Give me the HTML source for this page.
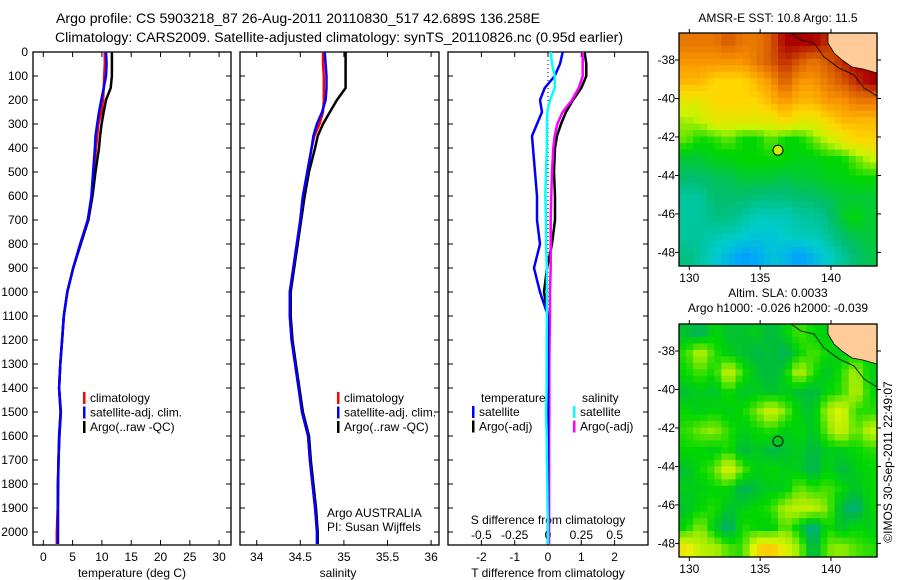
<!DOCTYPE html>
<html><head><meta charset="utf-8"><style>
html,body{margin:0;padding:0;background:#fff}
svg{display:block;font-family:"Liberation Sans",sans-serif}
</style></head><body>
<svg id="fig" width="900" height="580" viewBox="0 0 900 580" xmlns="http://www.w3.org/2000/svg">
<text x="56" y="23" font-size="14" textLength="484" lengthAdjust="spacingAndGlyphs">Argo profile: CS 5903218_87 26-Aug-2011 20110830_517 42.689S 136.258E</text>
<text x="55" y="42" font-size="13.5" textLength="568" lengthAdjust="spacingAndGlyphs">Climatology: CARS2009. Satellite-adjusted climatology: synTS_20110826.nc (0.95d earlier)</text>
<g id="g"></g>
</svg>
<script>
// ---- profile data ----
const depths=[0,50,100,150,200,250,300,350,400,500,600,700,800,900,1000,1100,1200,1300,1400,1500,1600,1700,1800,1900,2000,2050];
const tempClim=[10.5,10.5,10.4,10.3,10.2,9.9,9.4,9.2,9.0,8.6,8.3,7.6,6.3,5.1,4.1,3.5,3.2,2.9,2.7,2.95,2.75,2.6,2.5,2.45,2.3,2.3];
const tempSat=[10.7,10.8,10.7,10.3,9.9,9.5,9.2,8.9,8.8,8.5,8.2,7.6,6.3,5.1,4.1,3.5,3.2,2.9,2.7,3.0,2.75,2.6,2.55,2.5,2.5,2.5];
const tempArgo=[11.7,11.7,11.7,11.5,10.7,10.3,9.95,9.7,9.5,8.9,8.4,7.7,6.4,5.1,4.1,3.5,3.2,2.9,2.7,2.95,2.7,2.6,2.5,2.5,2.5,2.5];
const salClim=[34.76,34.76,34.77,34.77,34.77,34.76,34.72,34.66,34.63,34.58,34.53,34.5,34.46,34.42,34.38,34.38,34.4,34.44,34.48,34.52,34.59,34.61,34.64,34.67,34.7,34.7];
const salSat=[34.78,34.79,34.8,34.8,34.79,34.75,34.69,34.65,34.63,34.58,34.53,34.5,34.46,34.42,34.38,34.38,34.4,34.44,34.48,34.52,34.59,34.61,34.64,34.67,34.69,34.69];
const salArgo=[35.02,35.02,35.02,35.02,34.92,34.84,34.76,34.7,34.67,34.6,34.55,34.51,34.47,34.43,34.39,34.39,34.41,34.45,34.49,34.53,34.6,34.62,34.65,34.68,34.7,34.7];
const dTsat=[0.44,0.36,0.2,-0.1,-0.24,-0.18,-0.33,-0.48,-0.45,-0.39,-0.33,-0.33,-0.24,-0.42,-0.24,0,0,0,0,0,0,0,0,0,0,0];
const dTargo=[1.1,1.15,1.15,1.0,0.75,0.54,0.39,0.27,0.21,0.18,0.21,0.21,0.12,-0.03,-0.12,0,0,0,0,0,0,0,0,0,0,0];
const dSsat=[0.02,0.03,0.05,0.05,0.015,-0.005,-0.008,-0.008,-0.008,-0.015,-0.02,-0.015,-0.015,-0.008,-0.008,-0.008,-0.01,-0.01,-0.01,-0.015,-0.01,-0.008,-0.005,-0.003,0,0];
const dSargo=[0.26,0.26,0.26,0.23,0.18,0.11,0.07,0.05,0.04,0.03,0.025,0.02,0.02,0.02,0.015,0.015,0.012,0.01,0.01,0.01,0.008,0.008,0.008,0.008,0.008,0.008];
// ---- axis tick labels ----
const depthTicks=[0,100,200,300,400,500,600,700,800,900,1000,1100,1200,1300,1400,1500,1600,1700,1800,1900,2000];
const tempTicks=[0,5,10,15,20,25,30];
const salTicks=[34,34.5,35,35.5,36];
const salTickLabels=["34","34.5","35","35.5","36"];
const dTTicks=[-2,-1,0,1,2];
const dSTicks=[-0.5,-0.25,0,0.25,0.5];
const dSTickLabels=["-0.5","-0.25","0","0.25","0.5"];
const latTicks=[-38,-40,-42,-44,-46,-48];
const lonTicks=[130,135,140];
// ---- map data (rows top->bottom, cols west->east) ----
const sstGrid=[
[14.5,14.5,14.5,15,14.5,14.5,15,16,16,16,15.5,15,15,15],
[14,14,14,14,14,14.5,15,15.5,15,14.5,15,15.5,16,16],
[13.5,13.5,13,13,13,13.5,14,15,14,14,14.5,15,15.5,16],
[12.5,12.5,13,13,13,13,13.5,14,13.5,13.5,14,14,14.5,14.5],
[11.8,12,12.5,12.5,12.5,12.5,12.5,13,12.5,12.5,13,13.5,13.5,13.5],
[11.5,11,11.2,11.5,11,11,11.5,11,11,11.5,12,12.5,13,13],
[10.5,10.5,10.8,10.8,11,11,11,11,10.8,10.8,11,11,11.5,12],
[10,10,10.2,10.2,10.5,10.5,10.5,10.3,10.5,10.5,10.8,10.8,11,11],
[9.5,9.5,10,10,10,9.8,9.8,9.8,10,10,10.2,10.5,10.5,10.5],
[9.5,9.5,9.8,9.8,9.5,9.2,9.2,9.2,9.5,9.5,9.8,10.5,11,10.5],
[9.5,9.5,9.3,9.2,9,8.8,8.8,9,9.2,9.2,9.5,10,10.3,10.5],
[9.8,9.5,9,8.5,8,8.2,8.8,8.5,8,8.5,9,9.5,10,10.3]];
const slaGrid=[
[-0.2,-0.4,0,-0.2,-0.2,-0.1,-0.3,-0.1,0.2,0,-0.1,0,0,0],
[0.1,0.6,0.1,-0.1,-0.2,-0.3,-0.2,-0.4,0,0.2,0,-0.1,0,0],
[0,0.2,0,0.7,0.1,-0.2,-0.3,-0.1,0.6,0.1,-0.2,0.1,0.5,-0.1],
[-0.2,-0.1,-0.2,0.1,-0.2,-0.1,-0.2,-0.1,-0.2,-0.3,0,0.1,0.6,0],
[0,-0.1,0,-0.1,0,0.3,0.7,0.3,-0.1,-0.2,0.5,0.8,0.1,0.1],
[0.1,0.3,0.4,0.1,-0.1,0,0.1,-0.1,0,-0.2,0.3,0.7,0.2,0.6],
[0,0,-0.1,0.1,-0.3,-0.1,-0.3,-0.2,-0.1,-0.3,-0.1,-0.1,0,0.1],
[-0.2,0,0.2,0.8,0.2,-0.1,0,-0.1,-0.1,-0.4,0,-0.3,-0.1,0],
[-0.1,-0.1,0,0,-0.4,-0.2,-0.1,-0.1,0.3,0.1,0.2,0,-0.2,0],
[-0.2,0,0.1,-0.2,-0.1,0,0.1,0.5,0.6,0.6,0.3,-0.3,-0.5,0],
[0,0.4,-0.1,-0.5,0.1,0,-0.1,0.3,-0.1,-0.6,0.1,-0.2,0,-0.1],
[0.9,0.6,0.5,0.2,0.1,1.0,1.1,0.8,0.4,-0.4,0.3,0.4,0.2,0.1]];

const NS='http://www.w3.org/2000/svg';
const G=document.getElementById('g');
function mk(tag,attrs,parent){const e=document.createElementNS(NS,tag);for(const k in attrs)e.setAttribute(k,attrs[k]);(parent||G).appendChild(e);return e;}
function txt(x,y,s,anchor,size,parent){const t=mk('text',{x:x,y:y,'font-size':size||12,'text-anchor':anchor||'start'},parent);t.textContent=s;return t;}

const Y0=52,PY=0.24;
function yD(d){return Y0+d*PY;}
const BOT=545;

function panel(name,x0,x1,xfn,ticksTop){
  const g=mk('g',{});
  
  
  mk('rect',{x:x0,y:Y0,width:x1-x0,height:BOT-Y0,fill:'none',stroke:'#000','stroke-width':1.3},g);
  depthTicks.forEach(d=>{mk('line',{x1:x0,x2:x0+5,y1:yD(d),y2:yD(d),stroke:'#000'},g);mk('line',{x1:x1,x2:x1-5,y1:yD(d),y2:yD(d),stroke:'#000'},g);});
  ticksTop.forEach(v=>{const x=xfn(v);mk('line',{x1:x,x2:x,y1:Y0,y2:Y0+5,stroke:'#000'},g);mk('line',{x1:x,x2:x,y1:BOT,y2:BOT-5,stroke:'#000'},g);});
  return g;
}
function series(g,name,vals,xfn,color,w){
  let d='';
  depths.forEach((dp,i)=>{const x=xfn(vals[i]).toFixed(1),y=yD(dp).toFixed(1);d+=(i?'L':'M')+x+' '+y;});
  const p=mk('path',{d:d,fill:'none',stroke:color,'stroke-width':w||2.5},g);
  
  
}
function legend(g,x,y,items){
  items.forEach((it,i)=>{
    const r=mk('rect',{x:x,y:y+i*14.5-10,width:2.5,height:12,fill:it[1]},g);
    
    
    const t=txt(x+7,y+i*14.5,it[0],'start',12,g);
    
    
  });
}

const yl=mk('g',{});


depthTicks.forEach(d=>txt(28,yD(d)+4,String(d),'end',12,yl));

const xT=v=>43.3+v*5.86;
const p1=panel('temperature-panel',33,231,xT,tempTicks);
tempTicks.forEach(v=>txt(xT(v),561,String(v),'middle',12,p1));
txt(132,577,'temperature (deg C)','middle',12,p1);
series(p1,'temperature-climatology-line',tempClim,xT,'#ff0000');
series(p1,'temperature-argo-line',tempArgo,xT,'#000');
series(p1,'temperature-satellite-line',tempSat,xT,'#0000ff');
legend(p1,83,402,[['climatology','#f00','climatology'],['satellite-adj. clim.','#00f','satellite'],['Argo(..raw -QC)','#000','argo']]);

const xS=v=>256.7+(v-34)*87.2;
const p2=panel('salinity-panel',240,439,xS,salTicks);
salTicks.forEach((v,i)=>txt(xS(v),561,salTickLabels[i],'middle',12,p2));
txt(338,577,'salinity','middle',12,p2);
series(p2,'salinity-climatology-line',salClim,xS,'#ff0000');
series(p2,'salinity-argo-line',salArgo,xS,'#000');
series(p2,'salinity-satellite-line',salSat,xS,'#0000ff');
legend(p2,337,402,[['climatology','#f00','climatology'],['satellite-adj. clim.','#00f','satellite'],['Argo(..raw -QC)','#000','argo']]);
txt(327,517,'Argo AUSTRALIA','start',12,p2);
txt(327,531,'PI: Susan Wijffels','start',12,p2);

const xdT=v=>548+v*33.3, xdS=v=>548+v*133.4;
const p3=panel('difference-panel',448,648,xdT,dTTicks);
mk('line',{x1:548,x2:548,y1:Y0,y2:BOT,stroke:'#000','stroke-dasharray':'1 3'},p3);
dTTicks.forEach(v=>txt(xdT(v),561,String(v),'middle',12,p3));
dSTicks.forEach((v,i)=>txt(xdS(v),539,dSTickLabels[i],'middle',12,p3));
txt(548,524,'S difference from climatology','middle',12,p3);
txt(548,577,'T difference from climatology','middle',12,p3);
series(p3,'t-diff-argo-line',dTargo,xdT,'#000');
series(p3,'s-diff-argo-line',dSargo,xdS,'#ff00ff');
series(p3,'t-diff-satellite-line',dTsat,xdT,'#0000ff');
series(p3,'s-diff-satellite-line',dSsat,xdS,'#00ffff');
txt(481,402,'temperature','start',12,p3);
txt(582,402,'salinity','start',12,p3);
legend(p3,472,416,[['satellite','#00f','t-satellite'],['Argo(-adj)','#000','t-argo']]);
legend(p3,573,416,[['satellite','#0ff','s-satellite'],['Argo(-adj)','#f0f','s-argo']]);

// ---- maps ----
function lerp(a,b,t){return a+(b-a)*t;}
function rgb(c){return 'rgb('+c.map(Math.round).join(',')+')';}
function cmap(stops,v){
  if(v<=stops[0][0])return rgb(stops[0][1]);
  for(let i=1;i<stops.length;i++){if(v<=stops[i][0]){const t=(v-stops[i-1][0])/(stops[i][0]-stops[i-1][0]);const a=stops[i-1][1],b=stops[i][1];return rgb([0,1,2].map(k=>lerp(a[k],b[k],t)));}}
  return rgb(stops[stops.length-1][1]);
}
function sample(grid,fr,fc){
  const R=grid.length,C=grid[0].length;
  const r=Math.max(0,Math.min(R-1,fr)),c=Math.max(0,Math.min(C-1,fc));
  const r0=Math.floor(r),c0=Math.floor(c),r1=Math.min(R-1,r0+1),c1=Math.min(C-1,c0+1);
  const tr=r-r0,tc=c-c0;
  return lerp(lerp(grid[r0][c0],grid[r0][c1],tc),lerp(grid[r1][c0],grid[r1][c1],tc),tr);
}
const sstStops=[[8,[0,160,255]],[9,[0,205,205]],[10,[0,190,110]],[11,[0,215,0]],[12,[200,245,0]],[13,[255,215,0]],[14,[250,150,0]],[15,[215,90,0]],[16,[170,0,0]]];
const slaStops=[[-0.6,[0,170,160]],[-0.3,[0,185,70]],[0,[0,215,0]],[0.4,[150,235,0]],[0.8,[230,245,0]],[1.1,[255,200,0]]];

function map(name,top,grid,stops,title1,title2){
  const L=679,R=877,B=top+233;
  const g=mk('g',{});
  
  
  const NR=grid.length*3,NC=grid[0].length*2;
  const cw=(R-L)/NC,ch=(B-top)/NR;
  for(let r=0;r<NR;r++)for(let c=0;c<NC;c++){
    const v=sample(grid,(r+0.5)/3-0.5,(c+0.5)/2-0.5);
    const cell=mk('rect',{x:(L+c*cw).toFixed(2),y:(top+r*ch).toFixed(2),width:(cw+0.6).toFixed(2),height:(ch+0.6).toFixed(2),fill:cmap(stops,v)},g);
    
    
  }
  const land=mk('path',{d:`M828 ${top} L877 ${top} L877 ${top+40} L863 ${top+36} L852 ${top+34} L842 ${top+27} L834 ${top+20} L828 ${top+10} Z`,fill:'#ffcc99',stroke:'#000','stroke-width':0.8},g);
  
  
  mk('path',{d:`M${L+112} ${top} L${L+122} ${top+7} L${L+135} ${top+10} L${L+145} ${top+24} L${L+160} ${top+35} L${L+175} ${top+42} L${L+185} ${top+55} L877 ${top+63}`,fill:'none',stroke:'#000','stroke-width':0.8},g);
  mk('rect',{x:L,y:top,width:R-L,height:B-top,fill:'none',stroke:'#000','stroke-width':1.3},g);
  const lonX=v=>689.3+(v-130)*14.17, latY=v=>top+27+(-38-v)*19.24;
  lonTicks.forEach(v=>{const x=lonX(v);mk('line',{x1:x,x2:x,y1:top,y2:top-4,stroke:'#000'},g);mk('line',{x1:x,x2:x,y1:B,y2:B+4,stroke:'#000'},g);txt(x,B+16,String(v),'middle',12,g);});
  latTicks.forEach(v=>{const y=latY(v);mk('line',{x1:L,x2:L-4,y1:y,y2:y,stroke:'#000'},g);mk('line',{x1:R,x2:R+4,y1:y,y2:y,stroke:'#000'},g);txt(L-4,y+4,String(v),'end',12,g);});
  const mk1=mk('circle',{cx:lonX(136.258),cy:latY(-42.689),r:5,fill:name==='sst-map'?'#ccee00':'none',stroke:'#000','stroke-width':1},g);
  
  
  if(title1)txt(778,top-(title2?27:11),title1,'middle',12,g);
  if(title2)txt(778,top-12,title2,'middle',12,g);
}
map('sst-map',33,sstGrid,sstStops,'AMSR-E SST: 10.8 Argo: 11.5',null);
map('sla-map',324,slaGrid,slaStops,'Altim. SLA: 0.0033','Argo h1000: -0.026 h2000: -0.039');
const ts=txt(0,0,'©IMOS 30-Sep-2011 22:49:07','middle',12);
ts.setAttribute('transform','translate(892,462) rotate(-90)');


</script>
</body></html>
